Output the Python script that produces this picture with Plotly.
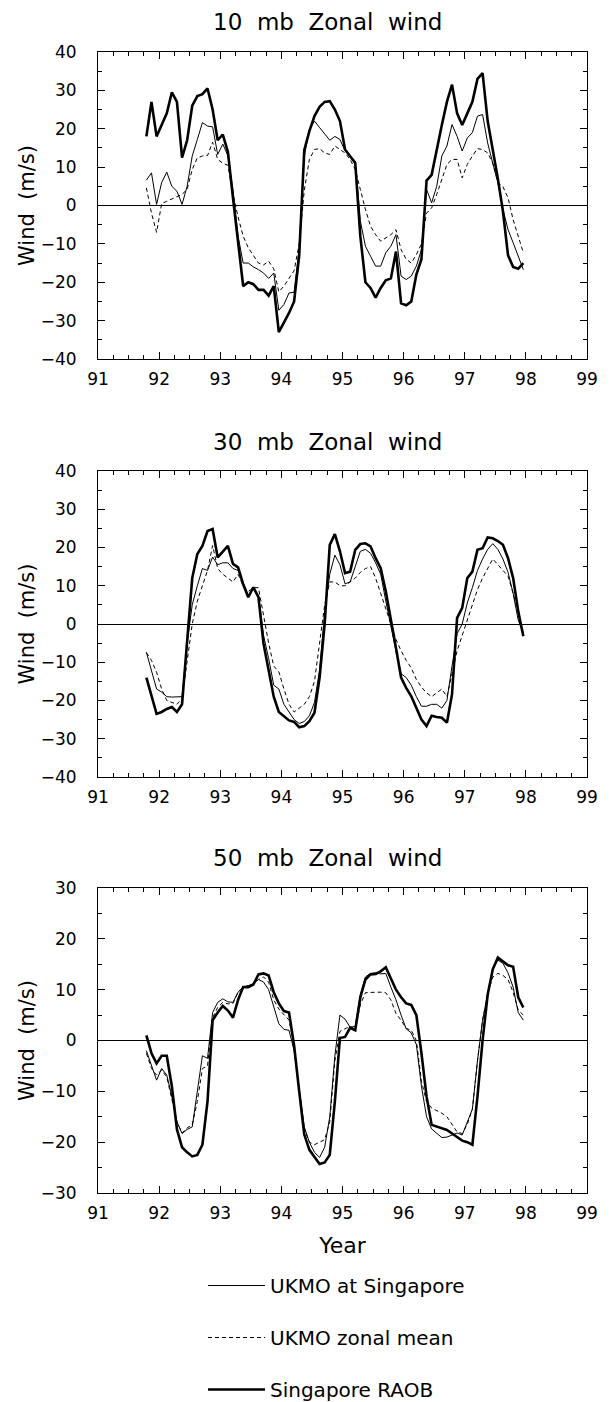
import plotly.graph_objects as go

# ---------------- data (monthly, Oct 1991 - Dec 1997) ----------------
months = [91 + (9 + i + 0.5) / 12 for i in range(75)]

raob10 = [18, 27, 18, 21, 24, 29.5, 27, 12.5, 17, 26,
          28.5, 29, 30.5, 25, 17, 18.5, 14, 2, -10, -21,
          -20, -20.5, -22, -22, -23.5, -21, -33, -30.5, -28, -25,
          -13, 14.5, 19.4, 23.3, 25.7, 27, 27.2, 25, 22, 14.6,
          12.9, 11.1, -8, -20, -21.5, -24, -21.5, -19.5, -19, -12,
          -25.5, -26, -25, -18, -14, 6.5, 8, 15, 21, 27,
          31.5, 24, 21, 24, 27, 33, 34.5, 22, 15, 7,
          -1.5, -13, -16, -16.5, -15]
ukmo10 = [6.6, 8.5, 0.3, 6, 8.7, 5, 3.7, 0.3, 5, 12.9,
          17.2, 21.6, 20.7, 20.5, 13.3, 16, 13, 4, -8, -15,
          -15, -16, -16.7, -17.6, -19, -17.6, -27.3, -25.8, -22.8, -22.6,
          -11, 12.9, 19.8, 22, 20.3, 18.5, 17, 18, 17.2, 14.2,
          12.9, 11.6, -4, -10.6, -13.2, -15.8, -15.8, -12.3, -10.6, -7.6,
          -18.4, -19.3, -18.4, -15.8, -11.5, 4.2, 0.7, 5, 12.9, 15.5,
          21.1, 18, 14.2, 17.6, 19, 23.3, 23.7, 16.3, 11, 6,
          -1, -6.3, -9.7, -13.2, -16.7]
zm10 = [4.6, -2, -7, 0.5, 1.1, 1.6, 2.3, 2.9, 4.2, 9.4,
        12.4, 12.9, 13, 16.5, 12, 11, 10.5, 3, -3, -8,
        -11, -13, -15, -15.5, -14.5, -16.5, -22.5, -21, -19, -17,
        -10, 4, 12, 14.6, 14.8, 13.7, 13.3, 15.5, 14.6, 13.7,
        12, 9.4, 4.2, -1, -5.4, -7.6, -9.3, -8.4, -7.6, -6.3,
        -11.5, -14, -15, -12.8, -10, -2, -0.6, 2.9, 6.8, 10.7,
        12, 12, 7.2, 10.7, 12.9, 14.8, 14.6, 13.7, 11, 6,
        4.9, 2, -3.7, -8, -12.3]

raob30 = [-14, -19, -23.5, -23, -22.2, -21.7, -23, -21, -4, 12,
          18.3, 20.4, 24.3, 24.8, 17.4, 19, 20.4, 15.7, 14.8, 10.4,
          7, 9.6, 7, -5.2, -12.2, -19, -23, -24.2, -25.2, -25.6,
          -27, -26.7, -25.4, -23.2, -14, 0, 20.7, 23.5, 19, 13.3,
          13.7, 19.4, 20.9, 21.1, 20.3, 17.2, 14.6, 8.5, 1.6, -6.3,
          -14, -16.7, -18.9, -21.9, -25, -26.7, -24, -24.3, -24.5, -25.8,
          -18.4, 1.6, 4.2, 12, 13.7, 19.4, 19.8, 22.6, 22.4, 21.7,
          20.7, 17.2, 12, 3.3, -3.2]
ukmo30 = [-7.4, -12, -17, -17.8, -19, -19.1, -19.1, -19, -5, 5,
          10, 14.5, 14, 17.5, 15.5, 16, 16, 14.5, 14, 10.5,
          7.5, 9, 7.5, -3, -9, -16, -17, -21, -23, -25,
          -26, -25.5, -24, -20.5, -12, 3, 13, 18, 15.5, 10.5,
          11, 15, 19, 19.5, 18.5, 16, 13, 6, -1, -7,
          -13, -14, -16, -19, -21.5, -21.5, -21, -21, -22, -20,
          -11, -2.5, 0, 5.5, 9.5, 14, 17, 19.5, 21, 19.5,
          17, 13.5, 8, 1, -2.5]
zm30 = [-7.5, -9.5, -12.6, -17, -20, -20.5, -21, -19.5, -10, 0,
        6, 10, 14, 20.5, 14.5, 13, 12, 11, 13, 10,
        8.5, 9.5, 9.5, 2, -5, -11, -12.5, -17, -21, -23,
        -22, -21, -19, -15, -5, 5, 11, 11, 10, 10,
        11, 12, 13.5, 14.5, 15, 12, 8, 4, 0, -4,
        -7, -9.5, -11.5, -14.5, -16.5, -18, -19, -18, -17, -19,
        -13, -7, -3, 1, 5, 9, 12, 14.5, 17, 15.5,
        14, 12.5, 8, 3, -2.5]

raob50 = [1, -2.5, -4.5, -3, -3, -9, -17.5, -21, -22, -22.8,
          -22.5, -20.5, -12, 4, 5.5, 6.8, 5.9, 4.5, 8, 10.5,
          10.5, 11, 13, 13.2, 12.8, 9.5, 7.3, 5.8, 5.5, -1,
          -10, -18.5, -21.5, -23, -24.3, -24, -22.5, -12, 0.5, 0.7,
          2.5, 2, 8.5, 12, 13, 13.1, 13.6, 14.4, 12.3, 10,
          8.5, 7.3, 7, 5, -2.5, -11, -16.6, -16.9, -17.2, -17.6,
          -18.3, -19, -19.7, -20, -20.5, -11, 0, 9, 14, 16.3,
          15.5, 14.8, 14.5, 8.5, 6.5]
ukmo50 = [-2, -5, -7.8, -5.5, -6.8, -11, -16, -18.3, -17.5, -17,
          -10, -3, -3.5, 5.5, 7.5, 8.2, 7.6, 7.5, 9.5, 10.5,
          10.8, 11.2, 12, 11.5, 10, 6.5, 3.3, 2.2, 2, -2,
          -10, -17, -20, -22, -23, -21, -15, -3, 5, 4.2,
          2.6, 2.8, 9, 12.5, 13.2, 13.3, 13.1, 13.2, 10.5, 8,
          5, 2.3, 1.5, -0.8, -9, -15, -17.4, -18.3, -19.1, -19,
          -18.6, -18.2, -18.6, -16, -13.5, -4, 4, 9.2, 14.3, 15.8,
          15.2, 13.3, 10.5, 5.5, 4]
zm50 = [-2.5, -5.5, -6.8, -5.8, -7.2, -11.5, -16, -18.2, -17.2, -16.6,
        -12, -5.5, -5, 4.5, 6.5, 7.5, 7.2, 7.3, 9.5, 10.5,
        10.8, 11, 12, 12.5, 11.5, 8, 6.2, 5, 4, -1,
        -10, -17.5, -20, -20.5, -20, -19.5, -16, -4, 1.8, 2.3,
        2.8, 2.2, 7, 9.4, 9.5, 9.5, 9.5, 9.4, 8, 5.3,
        4, 2.4, 2, 0, -8, -12, -13.3, -13.8, -14.3, -15,
        -16.5, -18, -18.3, -16.5, -13.5, -4, 4, 9.2, 12.5, 13.2,
        12.8, 12, 9.5, 6, 5]

titles = ["10  mb  Zonal  wind", "30  mb  Zonal  wind", "50  mb  Zonal  wind"]
yranges = [[-40, 40], [-40, 40], [-30, 30]]
year_ticks = [91, 92, 93, 94, 95, 96, 97, 98, 99]
names = ["UKMO at Singapore", "UKMO zonal mean", "Singapore RAOB"]

FONT = "DejaVu Sans"
OFF = 8                       # default page (body) margin of the html page
W, H = 614 - OFF, 1402 - OFF
LEFT, RIGHT, TOP, BOTTOM = 98, 587, 52, 1193     # plot frame in page pixels
ML, MR, MT, MB = LEFT - OFF, 614 - RIGHT, TOP - OFF, 1402 - BOTTOM
PH = H - MT - MB
PW = W - ML - MR


def py(pix):
    return (BOTTOM - pix) / PH


def px(pix):
    return (pix - LEFT) / PW


domains = [[py(359), 1.0], [py(777), py(471)], [0.0, py(888)]]
title_y = [22, 442, 858]

fig = go.Figure()
panels = [(ukmo10, zm10, raob10), (ukmo30, zm30, raob30), (ukmo50, zm50, raob50)]
for k, (uk, zm, ra) in enumerate(panels):
    xa = "x" if k == 0 else f"x{k+1}"
    yax = "y" if k == 0 else f"y{k+1}"
    fig.add_trace(go.Scatter(x=months, y=uk, mode="lines", name=names[0],
                             line=dict(color="black", width=1),
                             legendgroup="g1", showlegend=(k == 0),
                             xaxis=xa, yaxis=yax))
    fig.add_trace(go.Scatter(x=months, y=zm, mode="lines", name=names[1],
                             line=dict(color="black", width=1, dash="4px,3px"),
                             legendgroup="g2", showlegend=(k == 0),
                             xaxis=xa, yaxis=yax))
    fig.add_trace(go.Scatter(x=months, y=ra, mode="lines", name=names[2],
                             line=dict(color="black", width=2.6),
                             legendgroup="g3", showlegend=(k == 0),
                             xaxis=xa, yaxis=yax))

tickfont = dict(family=FONT, size=17, color="black")
layout = dict(
    width=W, height=H,
    margin=dict(l=ML, r=MR, t=MT, b=MB, autoexpand=False),
    paper_bgcolor="white", plot_bgcolor="white",
    font=dict(family=FONT, color="black"),
    showlegend=True,
    legend=dict(x=px(203), y=py(1266), xanchor="left", yanchor="top",
                font=dict(family=FONT, size=20, color="black"),
                tracegroupgap=23, itemwidth=57, bgcolor="rgba(0,0,0,0)"),
)
annotations = []
for k in range(3):
    xk = "xaxis" if k == 0 else f"xaxis{k+1}"
    yk = "yaxis" if k == 0 else f"yaxis{k+1}"
    anchor_y = "y" if k == 0 else f"y{k+1}"
    anchor_x = "x" if k == 0 else f"x{k+1}"
    xdict = dict(domain=[0, 1], anchor=anchor_y, range=[91, 99],
                 tickmode="array", tickvals=year_ticks,
                 ticktext=[str(v) for v in year_ticks],
                 ticks="inside", ticklen=7, tickwidth=1, tickcolor="black",
                 showline=True, linecolor="black", linewidth=1, mirror="ticks",
                 showgrid=False, zeroline=False, automargin=False,
                 minor=dict(tickmode="linear", tick0=91, dtick=0.25, ticks="inside",
                            ticklen=4, tickcolor="black", showgrid=False),
                 tickfont=tickfont, ticklabelstandoff=5)
    if k == 2:
        xdict["title"] = dict(text="Year", font=dict(family=FONT, size=22, color="black"),
                              standoff=15)
    layout[xk] = xdict
    layout[yk] = dict(domain=domains[k], anchor=anchor_x, range=yranges[k],
                      tickmode="linear", tick0=0, dtick=10,
                      ticks="inside", ticklen=7, tickwidth=1, tickcolor="black",
                      showline=True, linecolor="black", linewidth=1, mirror="ticks",
                      showgrid=False, zeroline=True, zerolinecolor="black",
                      zerolinewidth=1, automargin=False,
                      minor=dict(tickmode="linear", tick0=0, dtick=5, ticks="inside",
                                 ticklen=4, tickcolor="black", showgrid=False),
                      tickfont=tickfont, ticklabelstandoff=17,
                      title=dict(text="Wind  (m/s)",
                                 font=dict(family=FONT, size=21, color="black"),
                                 standoff=0))
    annotations.append(dict(text=titles[k], xref="paper", yref="paper",
                            x=px(327), y=py(title_y[k]), xanchor="center",
                            yanchor="middle", showarrow=False,
                            font=dict(family=FONT, size=23, color="black")))
layout["annotations"] = annotations
fig.update_layout(**layout)

fig.write_html("out.html")
